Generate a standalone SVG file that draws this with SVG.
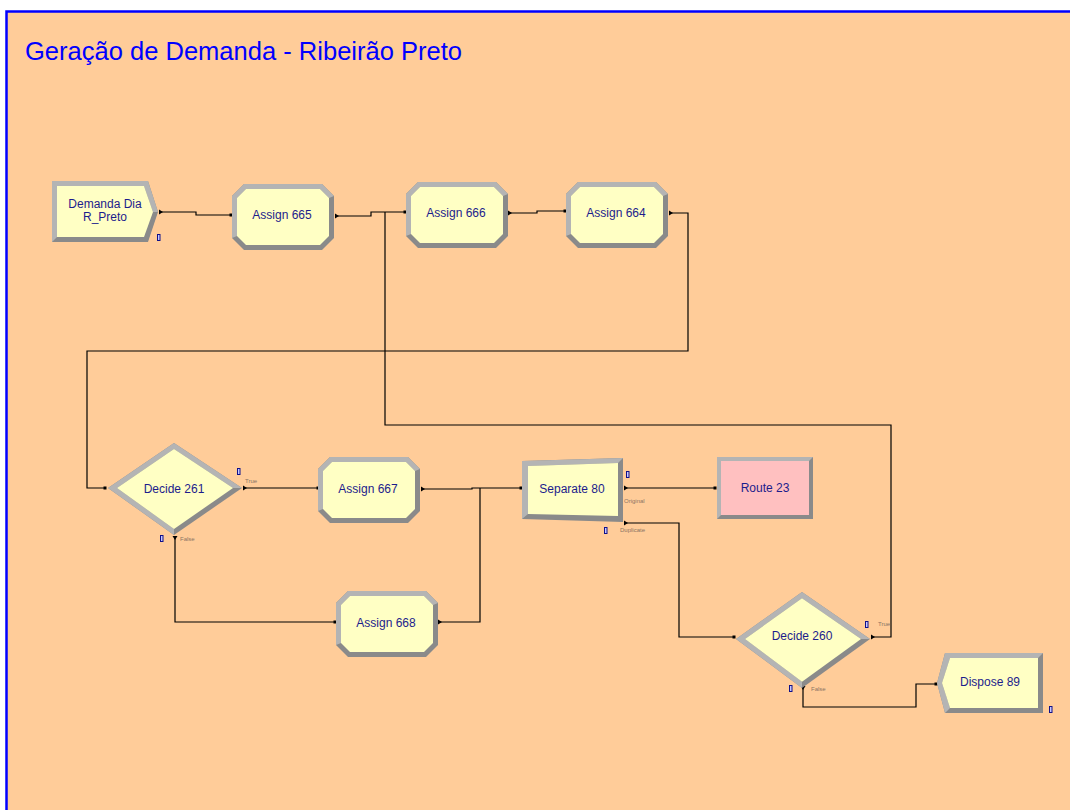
<svg xmlns="http://www.w3.org/2000/svg" xmlns:xlink="http://www.w3.org/1999/xlink" width="1070" height="810" viewBox="0 0 1070 810">
  <style>
    .frame { fill: #ffcc99; stroke: #0000ff; stroke-width: 2.5; }
    .title { font-family: "Liberation Sans", Arial, sans-serif; font-size: 25px; fill: #0000ff; }
    .lbl { font-family: "Liberation Sans", Arial, sans-serif; font-size: 12px; fill: #1c1c8c; text-anchor: middle; }
    .tiny { font-family: "Liberation Sans", Arial, sans-serif; font-size: 6px; fill: #8a7464; }
    .dark { fill: #8a8a8a; }
    .light { fill: #b4b4b4; }
    .body { fill: #ffffc4; }
    .pink { fill: #ffc0c0; }
    .wire { fill: none; stroke: #000000; stroke-width: 1.2; }
    .pin { fill: #000000; }
    .cnt { fill: #c8c8ff; stroke: #10108a; stroke-width: 1; }
  </style>
  <defs>
    <!-- chamfered block used by the Assign modules (102 x 66) -->
    <g id="assignShape">
      <path class="dark" d="M12,0 H90 L102,12 V54 L90,66 H12 L0,54 V12 Z"/>
      <polygon class="light" points="0,54 0,12 12,0 90,0 102,12 97,14 88,5 14,5 5,14 5,52"/>
      <polygon class="body" points="14,5 88,5 97,14 97,52 88,61 14,61 5,52 5,14"/>
    </g>
    <!-- entity source: box with chevron on the right -->
    <g id="createShape">
      <polygon class="dark" points="0,0 96,0 106,31 96,61 0,61"/>
      <polygon class="light" points="0,61 0,0 96,0 106,31 101,31 92,5 5,5 5,56"/>
      <polygon class="body" points="5,5 92,5 101,31 92,56 5,56"/>
    </g>
    <!-- entity sink: box pointed on the left -->
    <g id="disposeShape">
      <polygon class="dark" points="8,0 106,0 106,60 8,60 0,30"/>
      <polygon class="light" points="8,60 0,30 8,0 106,0 101,5 13,5 5,30 13,55"/>
      <polygon class="body" points="13,5 101,5 101,55 13,55 5,30"/>
    </g>
    <!-- two-way decision diamond (134 x 92) -->
    <g id="decideShape">
      <polygon class="dark" points="0,45 66,0 134,45 66,92"/>
      <polygon class="light" points="66,92 0,45 66,0 134,45 125,45 66,6 9,45 66,86"/>
      <polygon class="body" points="9,45 66,6 125,45 66,86"/>
    </g>
  </defs>

  <rect x="0" y="0" width="1070" height="810" fill="#ffffff"/>
  <rect class="frame" x="6.5" y="11.5" width="1100" height="900"/>
  <text class="title" x="25" y="59.5" textLength="437" lengthAdjust="spacingAndGlyphs">Geração de Demanda - Ribeirão Preto</text>

  <!-- connectors -->
  <g id="connectors">
    <polyline class="wire" points="160,212 196,212 196,215 231,215"/>
    <polyline class="wire" points="336,216 371,216 371,212 405,212"/>
    <polyline class="wire" points="509,213 537,213 537,211 565,211"/>
    <polyline class="wire" points="670,213 688,213 688,351 87,351 87,488 106,488"/>
    <polyline class="wire" points="244,488 318,488"/>
    <polyline class="wire" points="175,537 175,622 335,622"/>
    <polyline class="wire" points="422,489 472,489 472,488 521,488"/>
    <polyline class="wire" points="439,622 480,622 480,488"/>
    <polyline class="wire" points="625,488 715,488"/>
    <polyline class="wire" points="625,523 679,523 679,637 734,637"/>
    <polyline class="wire" points="872,637 891,637 891,425 385,425 385,212"/>
    <polyline class="wire" points="803,687 803,707 916,707 916,684 937,684"/>
    <!-- entry points -->
    <rect class="pin" x="229.5" y="213.5" width="3" height="3"/>
    <rect class="pin" x="403.5" y="210.5" width="3" height="3"/>
    <rect class="pin" x="563.5" y="209.5" width="3" height="3"/>
    <rect class="pin" x="103.5" y="486.5" width="3" height="3"/>
    <rect class="pin" x="316.5" y="486.5" width="3" height="3"/>
    <rect class="pin" x="333.5" y="620.5" width="3" height="3"/>
    <rect class="pin" x="519.5" y="486.5" width="3" height="3"/>
    <rect class="pin" x="713.5" y="486.5" width="3" height="3"/>
    <rect class="pin" x="732.5" y="635.5" width="3" height="3"/>
    <rect class="pin" x="934.5" y="682.5" width="3" height="3"/>
    <!-- exit points -->
    <polygon class="pin" points="159,209.5 163,212 159,214.5"/>
    <polygon class="pin" points="335,213.5 339,216 335,218.5"/>
    <polygon class="pin" points="508,210.5 512,213 508,215.5"/>
    <polygon class="pin" points="669,210.5 673,213 669,215.5"/>
    <polygon class="pin" points="243,485.5 247,488 243,490.5"/>
    <polygon class="pin" points="172.5,536 177.5,536 175,540"/>
    <polygon class="pin" points="421,486.5 425,489 421,491.5"/>
    <polygon class="pin" points="438,619.5 442,622 438,624.5"/>
    <polygon class="pin" points="624,485.5 628,488 624,490.5"/>
    <polygon class="pin" points="624,520.5 628,523 624,525.5"/>
    <polygon class="pin" points="871,634.5 875,637 871,639.5"/>
    <polygon class="pin" points="800.5,686 805.5,686 803,690"/>
  </g>

  <g id="create-demanda">
    <use xlink:href="#createShape" transform="translate(52,181)"/>
    <text class="lbl" x="105" y="208">Demanda Dia</text>
    <text class="lbl" x="105" y="221">R_Preto</text>
    <rect class="cnt" x="157.5" y="234.5" width="2.5" height="6"/>
  </g>

  <g id="assign-665">
    <use xlink:href="#assignShape" transform="translate(232,184)"/>
    <text class="lbl" x="282" y="219">Assign 665</text>
  </g>

  <g id="assign-666">
    <use xlink:href="#assignShape" transform="translate(406,182)"/>
    <text class="lbl" x="456" y="217">Assign 666</text>
  </g>

  <g id="assign-664">
    <use xlink:href="#assignShape" transform="translate(566,182)"/>
    <text class="lbl" x="616" y="217">Assign 664</text>
  </g>

  <g id="decide-261">
    <use xlink:href="#decideShape" transform="translate(108,443)"/>
    <text class="lbl" x="174" y="493">Decide 261</text>
    <rect class="cnt" x="237.5" y="468.5" width="2.5" height="6"/>
    <rect class="cnt" x="160.5" y="535.5" width="2.5" height="6"/>
    <text class="tiny" x="245" y="483">True</text>
    <text class="tiny" x="180" y="541">False</text>
  </g>

  <g id="assign-667">
    <use xlink:href="#assignShape" transform="translate(318,457)"/>
    <text class="lbl" x="368" y="492.5">Assign 667</text>
  </g>

  <g id="assign-668">
    <use xlink:href="#assignShape" transform="translate(336,591)"/>
    <text class="lbl" x="386" y="626.5">Assign 668</text>
  </g>

  <g id="separate-80">
    <polygon class="dark" points="522,461 623,458 623,522 522,519"/>
    <polygon class="light" points="522,519 522,461 623,458 618,463 528,466 528,514"/>
    <polygon class="body" points="528,466 618,463 618,516 528,514"/>
    <text class="lbl" x="572" y="492.5">Separate 80</text>
    <rect class="cnt" x="626.5" y="471.5" width="2.5" height="6"/>
    <rect class="cnt" x="604.5" y="527.5" width="2.5" height="6"/>
    <text class="tiny" x="624" y="503">Original</text>
    <text class="tiny" x="620" y="532">Duplicate</text>
  </g>

  <g id="route-23">
    <rect class="dark" x="717" y="457" width="96" height="62"/>
    <polygon class="light" points="717,519 717,457 813,457 809,461 721,461 721,515"/>
    <rect class="pink" x="721" y="461" width="88" height="54"/>
    <text class="lbl" x="765" y="491.5">Route 23</text>
  </g>

  <g id="decide-260">
    <use xlink:href="#decideShape" transform="translate(736,592) scale(1,1.0435)"/>
    <text class="lbl" x="802" y="640">Decide 260</text>
    <rect class="cnt" x="865.5" y="621.5" width="2.5" height="6"/>
    <rect class="cnt" x="789.5" y="685.5" width="2.5" height="6"/>
    <text class="tiny" x="878" y="626">True</text>
    <text class="tiny" x="811" y="691">False</text>
  </g>

  <g id="dispose-89">
    <use xlink:href="#disposeShape" transform="translate(937,653)"/>
    <text class="lbl" x="990" y="685.5">Dispose 89</text>
    <rect class="cnt" x="1049.5" y="706.5" width="2.5" height="6"/>
  </g>
</svg>
